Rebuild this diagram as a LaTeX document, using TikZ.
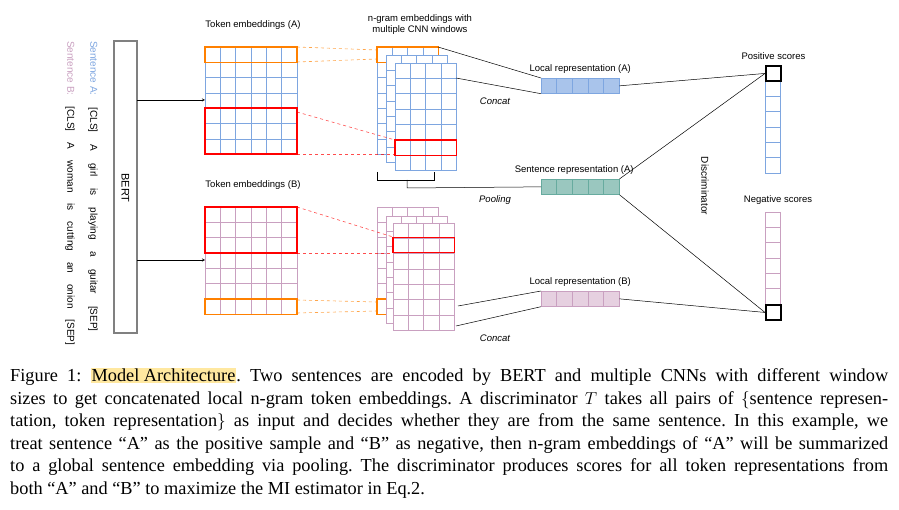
\documentclass[tikz,border=0pt]{standalone}
\usepackage{fontspec}
\setmainfont{Liberation Serif}
\newfontfamily\diagfont{Liberation Sans}
\usepackage{tikz}
\usetikzlibrary{positioning}

\definecolor{blueline}{HTML}{7EA6E0}
\definecolor{bluefill}{HTML}{A9C4EB}
\definecolor{pinkline}{HTML}{C9A0C0}
\definecolor{pinkfill}{HTML}{E6D0E0}
\definecolor{greenline}{HTML}{67AB9F}
\definecolor{greenfill}{HTML}{9AC7BF}
\definecolor{orangebox}{HTML}{FF8000}
\definecolor{hilite}{HTML}{FFE8A0}

% x y cols rows colour
\newcommand{\cellgrid}[5]{%
	\draw[#5, fill=white] (#1,#2) rectangle ++(#3*15.3,#4*15.3);
	\foreach \k in {1,...,#3} \draw[#5] (#1+\k*15.3,#2) -- ++(0,#4*15.3);
	\foreach \k in {1,...,#4} \draw[#5] (#1,#2+\k*15.3) -- ++(#3*15.3,0);
}

\tikzset{
	lbl/.style={font=\diagfont\fontsize{9.5}{11}\selectfont, inner sep=1pt},
	op/.style={lbl, font=\diagfont\itshape\fontsize{9.5}{11}\selectfont},
	rep/.style={draw=#1line, fill=#1fill, minimum width=78pt, minimum height=15.3pt, inner sep=0pt},
	hot/.style={draw=red, line width=1.4pt},
	warm/.style={draw=orangebox, line width=1.4pt},
	lead/.style={#1, dashed, line width=0.6pt, opacity=0.7},
	wire/.style={line width=0.5pt},
	score/.style={draw=black, line width=1.6pt, minimum size=15.3pt, inner sep=0pt},
}

\begin{document}
\begin{tikzpicture}[x=1pt, y=-1pt]
	\useasboundingbox (0,0) rectangle (899,510);

	%sentences
	\node[lbl, rotate=-90, anchor=west, font=\diagfont\fontsize{10}{12}\selectfont] (sentA) at (93,40) {\textcolor{blueline}{Sentence A:}\hspace{12pt}[CLS]\hspace{12pt}A\hspace{12pt}girl\hspace{12pt}is\hspace{12pt}playing\hspace{12pt}a\hspace{12pt}guitar\hspace{12pt}[SEP]};
	\node[lbl, rotate=-90, anchor=west, font=\diagfont\fontsize{10}{12}\selectfont] (sentB) at (70,40) {\textcolor{pinkline}{Sentence B:}\hspace{11pt}[CLS]\hspace{11pt}A\hspace{11pt}woman\hspace{11pt}is\hspace{11pt}cutting\hspace{11pt}an\hspace{11pt}onion\hspace{11pt}[SEP]};

	%bert
	\draw[gray, line width=1.4pt] (114,41) rectangle (137,333);
	\node[lbl, rotate=-90, font=\diagfont\fontsize{11}{13}\selectfont] (bert) at (125.5,188) {BERT};
	\draw[-stealth] (137,100) -- (205,100);
	\draw[-stealth] (137,260) -- (205,260);

	%token embeddings
	\cellgrid{205}{47}{6}{7}{blueline}
	\cellgrid{205}{207}{6}{7}{pinkline}
	\node[lbl] (tokA) at (253,25) {Token embeddings (A)};
	\node[lbl] (tokB) at (253,185) {Token embeddings (B)};

	%n-gram stacks (A)
	\foreach \d in {0,9,18} {
		\cellgrid{377+\d}{47+0.89*\d}{4}{7}{blueline}
		\fill[bluefill] (377+\d,47+0.89*\d) rectangle ++(61.2,15.3);
		\cellgrid{377+\d}{47+0.89*\d}{4}{1}{blueline}
	}
	\node[lbl, align=center] (ngram) at (420,25) {n-gram embeddings with\\multiple CNN windows};

	%n-gram stacks (B)
	\foreach \d in {0,9,16} {
		\cellgrid{377+\d}{207+\d}{4}{7}{pinkline}
		\fill[pinkfill] (377+\d,207+\d+6*15.3) rectangle ++(61.2,15.3);
		\cellgrid{377+\d}{207+\d+6*15.3}{4}{1}{pinkline}
	}

	%highlight boxes
	\draw[warm] (205,47) rectangle ++(92,15.3);
	\draw[hot] (205,108) rectangle ++(92,46);
	\draw[warm] (377,55) -- (377,62.3) -- (386,62.3);
	\draw[warm] (377,55) -- (377,47) -- (438.2,47) -- (438.2,55);
	\draw[hot] (395,140) rectangle ++(61.2,15.3);
	\draw[hot] (205,207) rectangle ++(92,46);
	\draw[warm] (205,299) rectangle ++(92,15.3);
	\draw[warm] (386,299) -- (377,299) -- (377,314.3) -- (386,314.3);
	\draw[hot] (393,237.5) rectangle ++(61.2,15.3);

	%dashed leads
	\draw[lead=orangebox] (297,47) -- (377,50);
	\draw[lead=orangebox] (297,62) -- (377,59);
	\draw[lead=red] (297,112) -- (395,140);
	\draw[lead=red] (297,154) -- (395,154);
	\draw[lead=red] (297,207) -- (393,237);
	\draw[lead=red] (297,253) -- (393,253);
	\draw[lead=orangebox] (297,300) -- (377,302);
	\draw[lead=orangebox] (297,313) -- (377,311);

	%representations
	\node[rep=blue, anchor=north west] (locA) at (541,78) {};
	\node[rep=green, anchor=north west] (sentrep) at (541,179) {};
	\node[rep=pink, anchor=north west] (locB) at (541,291) {};
	\foreach \r/\c in {locA/blueline, sentrep/greenline, locB/pinkline}
		\foreach \k in {1,...,4}
			\draw[\c] ([xshift=\k*15.6pt]\r.north west) -- ([xshift=\k*15.6pt]\r.south west);
	\node[lbl, above=3pt of locA] {Local representation (A)};
	\node[lbl, above=3pt of sentrep, xshift=-6pt] {Sentence representation (A)};
	\node[lbl, above=3pt of locB] {Local representation (B)};
	\node[op] (concatA) at (495,101) {Concat};
	\node[op] (pool) at (495,200) {Pooling};
	\node[op] (concatB) at (495,338) {Concat};

	%concat and pooling wires
	\draw[wire] (438,47) -- (locA.north west);
	\draw[wire] (456,78) -- (locA.south west);
	\draw[wire] (458,306) -- (locB.north west);
	\draw[wire] (456,326) -- (locB.south west);
	\draw[wire] (377,172) -- (377,180) -- (434,180) -- (434,172);
	\draw[wire] (407,180) -- (407,188) -- (sentrep.west);

	%scores
	\cellgrid{765}{81}{1}{6}{blueline}
	\cellgrid{765}{212}{1}{6}{pinkline}
	\node[score, anchor=north west] (posTop) at (765,65) {};
	\node[score, anchor=north west] (negBot) at (765,304) {};
	\node[lbl, above=4pt of posTop] {Positive scores};
	\node[lbl] (negLbl) at (778,200) {Negative scores};
	\node[lbl, rotate=-90, font=\diagfont\fontsize{10}{12}\selectfont] (disc) at (705,186) {Discriminator};

	%discriminator wires
	\draw[wire] (locA.east) -- (posTop.west);
	\draw[wire] (sentrep.north east) -- (posTop.west);
	\draw[wire] (sentrep.south east) -- (negBot.west);
	\draw[wire] (locB.east) -- (negBot.west);

	%caption
	\node[anchor=north west, inner sep=0pt] (caption) at (10,368) {\parbox{878pt}{\fontsize{18.3}{22.5}\selectfont\frenchspacing\setlength{\fboxsep}{1pt}\setlength{\parfillskip}{0pt plus 1fil}%
	Figure 1: \colorbox{hilite}{Model Architecture}. Two sentences are encoded by BERT and multiple CNNs with different window\linebreak
	sizes to get concatenated local n-gram token embeddings. A discriminator $T$ takes all pairs of $\{$sentence represen-\linebreak
	tation, token representation$\}$ as input and decides whether they are from the same sentence. In this example, we\linebreak
	treat sentence “A” as the positive sample and “B” as negative, then n-gram embeddings of “A” will be summarized\linebreak
	to a global sentence embedding via pooling. The discriminator produces scores for all token representations from\linebreak
	both “A” and “B” to maximize the MI estimator in Eq.2.}};
\end{tikzpicture}
\end{document}
